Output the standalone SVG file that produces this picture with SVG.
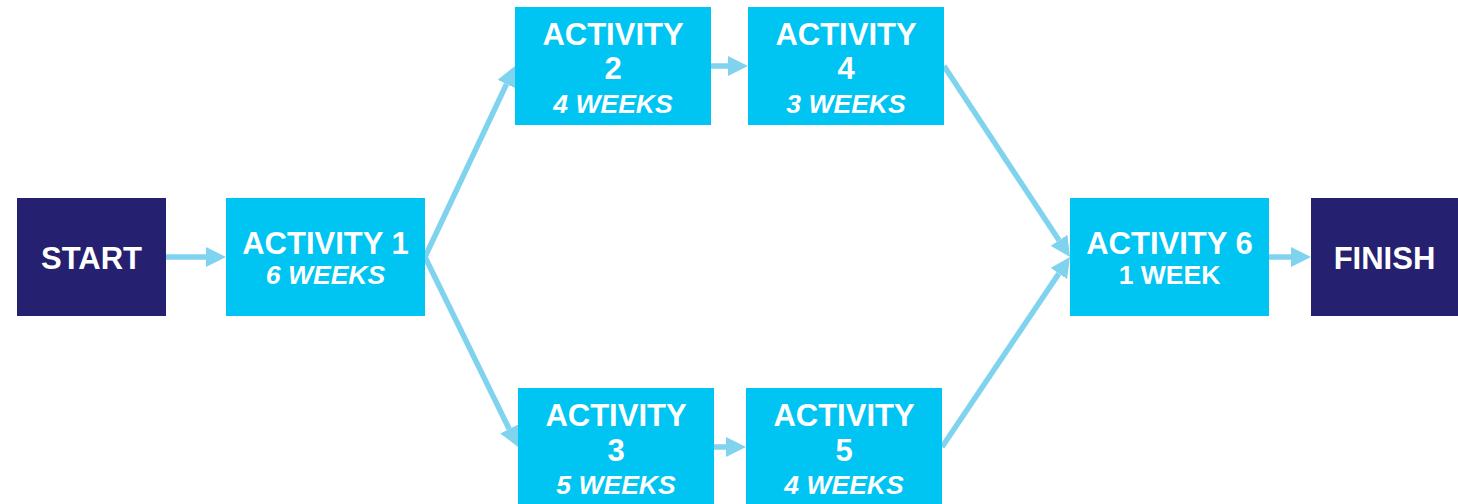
<svg xmlns="http://www.w3.org/2000/svg" width="1458" height="504" viewBox="0 0 1458 504">
<style>
.term{fill:#262071}
.act{fill:#00C4F2}
.t{font-family:"Liberation Sans",Arial,sans-serif;font-weight:bold;fill:#fff;text-anchor:middle}
.big{font-size:31px}
.sub{font-size:26.5px}
.it{font-style:italic}
.con{stroke:#7FD3EE;stroke-width:5.5;fill:none}
</style>
<defs>
<marker id="ah" markerUnits="userSpaceOnUse" viewBox="0 0 20 20" markerWidth="20" markerHeight="20" refX="0" refY="10" orient="auto">
<path d="M0,0 L20,10 L0,20 z" fill="#7FD3EE"/>
</marker>
</defs>
<g id="connectors">
<line class="con" x1="166" y1="257" x2="206" y2="257" marker-end="url(#ah)"/>
<line class="con" x1="425" y1="257" x2="506.5" y2="84.1" marker-end="url(#ah)"/>
<line class="con" x1="425" y1="257" x2="509.2" y2="429" marker-end="url(#ah)"/>
<line class="con" x1="711" y1="66" x2="728" y2="66" marker-end="url(#ah)"/>
<line class="con" x1="714" y1="447" x2="726" y2="447" marker-end="url(#ah)"/>
<line class="con" x1="944" y1="66" x2="1059" y2="240.3" marker-end="url(#ah)"/>
<line class="con" x1="942" y1="447" x2="1058.8" y2="273.6" marker-end="url(#ah)"/>
<line class="con" x1="1269" y1="257" x2="1291" y2="257" marker-end="url(#ah)"/>
</g>
<g id="start">
<rect class="term" x="17" y="198" width="149" height="118"/>
<text class="t big" x="91.5" y="269">START</text>
</g>
<g id="activity1">
<rect class="act" x="226" y="198" width="199" height="118"/>
<text class="t big" x="325.5" y="254">ACTIVITY 1</text>
<text class="t sub it" x="325.5" y="284">6 WEEKS</text>
</g>
<g id="activity2">
<rect class="act" x="515" y="7" width="196" height="118"/>
<text class="t big" x="613" y="45">ACTIVITY</text>
<text class="t big" x="613" y="79">2</text>
<text class="t sub it" x="613" y="113">4 WEEKS</text>
</g>
<g id="activity4">
<rect class="act" x="748" y="7" width="196" height="118"/>
<text class="t big" x="846" y="45">ACTIVITY</text>
<text class="t big" x="846" y="79">4</text>
<text class="t sub it" x="846" y="113">3 WEEKS</text>
</g>
<g id="activity3">
<rect class="act" x="518" y="388" width="196" height="118"/>
<text class="t big" x="616" y="426">ACTIVITY</text>
<text class="t big" x="616" y="461">3</text>
<text class="t sub it" x="616" y="494">5 WEEKS</text>
</g>
<g id="activity5">
<rect class="act" x="746" y="388" width="196" height="118"/>
<text class="t big" x="844" y="426">ACTIVITY</text>
<text class="t big" x="844" y="461">5</text>
<text class="t sub it" x="844" y="494">4 WEEKS</text>
</g>
<g id="activity6">
<rect class="act" x="1070" y="198" width="199" height="118"/>
<text class="t big" x="1169.5" y="254">ACTIVITY 6</text>
<text class="t sub" x="1169.5" y="284">1 WEEK</text>
</g>
<g id="finish">
<rect class="term" x="1311" y="198" width="147" height="118"/>
<text class="t big" x="1384.5" y="269">FINISH</text>
</g>
</svg>
